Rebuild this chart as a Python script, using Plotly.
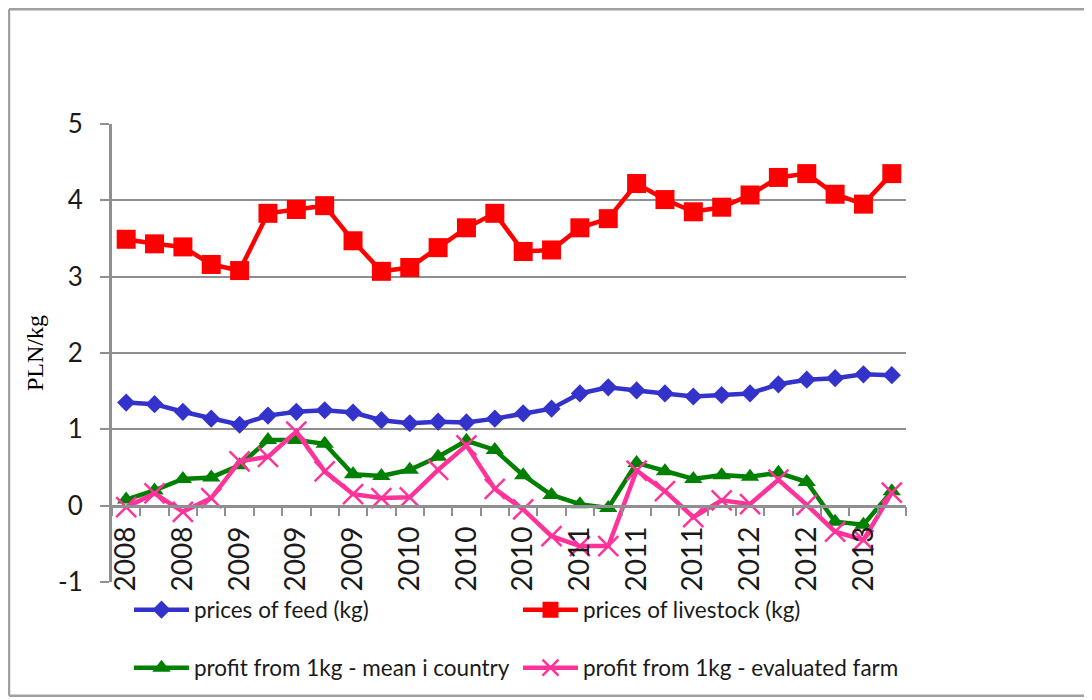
import plotly.graph_objects as go

# ---- data ----
tick_labels = ["2008", "2008", "2009", "2009", "2009", "2010", "2010",
               "2010", "2011", "2011", "2011", "2012", "2012", "2013"]

y_ticks = [-1, 0, 1, 2, 3, 4, 5]
y_tick_labels = ["-1", "0", "1", "2", "3", "4", "5"]

feed_prices = [1.35, 1.33, 1.23, 1.14, 1.06, 1.18, 1.23, 1.25, 1.22, 1.12,
               1.08, 1.10, 1.09, 1.14, 1.21, 1.27, 1.47, 1.55, 1.51, 1.47,
               1.43, 1.45, 1.47, 1.59, 1.65, 1.67, 1.72, 1.71]

livestock_prices = [3.49, 3.43, 3.39, 3.16, 3.08, 3.83, 3.88, 3.93, 3.47, 3.07,
                    3.12, 3.38, 3.64, 3.83, 3.33, 3.35, 3.64, 3.76, 4.22, 4.01,
                    3.85, 3.91, 4.07, 4.30, 4.35, 4.08, 3.95, 4.35]

profit_country = [0.08, 0.20, 0.35, 0.37, 0.53, 0.86, 0.86, 0.81, 0.41, 0.39,
                  0.47, 0.64, 0.85, 0.73, 0.40, 0.14, 0.02, -0.03, 0.56, 0.45,
                  0.35, 0.40, 0.38, 0.43, 0.31, -0.21, -0.25, 0.19]

profit_farm = [-0.02, 0.16, -0.08, 0.10, 0.58, 0.64, 0.97, 0.45, 0.15, 0.10,
               0.11, 0.47, 0.79, 0.22, -0.05, -0.40, -0.53, -0.53, 0.46, 0.19,
               -0.15, 0.07, 0.02, 0.34, 0.01, -0.34, -0.45, 0.17]

series_names = ["prices of feed (kg)", "prices of livestock (kg)",
                "profit from 1kg - mean i country", "profit from 1kg - evaluated farm"]

x = list(range(len(feed_prices)))
tickvals = x[::2]

GRID = "#8f8f8f"
FONT = "Lato"

fig = go.Figure()
fig.add_trace(go.Scatter(
    x=x, y=feed_prices, name=series_names[0], mode="lines+markers",
    line=dict(color="#3333CC", width=4.5),
    marker=dict(symbol="diamond", size=14, color="#3333CC"),
    legend="legend"))
fig.add_trace(go.Scatter(
    x=x, y=livestock_prices, name=series_names[1], mode="lines+markers",
    line=dict(color="#FF0000", width=4.5),
    marker=dict(symbol="square", size=19, color="#FF0000"),
    legend="legend"))
fig.add_trace(go.Scatter(
    x=x, y=profit_country, name=series_names[2], mode="lines+markers",
    line=dict(color="#008000", width=4.5),
    marker=dict(symbol="triangle-up", size=16, color="#008000"),
    legend="legend2"))
fig.add_trace(go.Scatter(
    x=x, y=profit_farm, name=series_names[3], mode="lines+markers",
    line=dict(color="#FF3399", width=4.5),
    marker=dict(symbol="x-thin", size=20, color="#FF3399",
                line=dict(color="#FF3399", width=2.5)),
    legend="legend2"))

# page offset: the figure sits 8px inside the page
OFF = 8
W, H = 1092 - OFF, 700 - OFF
L, T = 112 - OFF, 124 - OFF
pw, ph = 794, 459
R, B = W - L - pw, H - T - ph


def px_x(p):  # page px -> paper
    return (p - OFF - L) / pw


def px_y(p):  # page px -> paper
    return (T + ph - (p - OFF)) / ph


legend_common = dict(orientation="h", xanchor="left", yanchor="middle",
                     font=dict(size=22.5, family=FONT, color="#1a1a1a"),
                     entrywidth=319, itemwidth=55, bgcolor="rgba(0,0,0,0)")

border = dict(color="#a0a0a0", width=2.5)
bx0, bx1, by0, by1 = px_x(9), px_x(1100), px_y(697), px_y(9)

fig.update_layout(
    width=W, height=H,
    margin=dict(l=L, r=R, t=T, b=B),
    paper_bgcolor="white", plot_bgcolor="white",
    font=dict(family=FONT, color="#1a1a1a"),
    showlegend=True,
    legend=dict(x=px_x(129), y=px_y(610), **legend_common),
    legend2=dict(x=px_x(129), y=px_y(668), **legend_common),
    xaxis=dict(
        range=[-0.5, len(x) - 0.5],
        anchor="free", position=1 / 6,
        tickmode="array", tickvals=tickvals, ticktext=tick_labels,
        tickangle=-90, ticks="", ticklabelstandoff=8,
        tickfont=dict(size=28, family=FONT, color="#1a1a1a"),
        showline=True, linecolor=GRID, linewidth=2.5,
        showgrid=False, zeroline=False,
        minor=dict(tickmode="linear", tick0=-0.5, dtick=1, ticks="outside",
                   ticklen=9, tickwidth=2, tickcolor=GRID, showgrid=False),
    ),
    yaxis=dict(
        range=[-1, 5], tickmode="array", tickvals=y_ticks, ticktext=y_tick_labels,
        showline=True, linecolor=GRID, linewidth=3,
        ticks="outside", ticklen=9, tickwidth=2, tickcolor=GRID,
        ticklabelstandoff=12,
        tickfont=dict(size=26, family=FONT, color="#1a1a1a"),
        showgrid=True, gridcolor=GRID, gridwidth=2, zeroline=False,
        title=dict(text="PLN/kg", standoff=8,
                   font=dict(family="Liberation Serif", size=24, color="black")),
    ),
    shapes=[
        dict(type="line", xref="paper", yref="paper", x0=bx0, x1=bx0, y0=by0, y1=by1,
             line=border, layer="below"),
        dict(type="line", xref="paper", yref="paper", x0=bx0, x1=bx1, y0=by1, y1=by1,
             line=border, layer="below"),
        dict(type="line", xref="paper", yref="paper", x0=bx0, x1=bx1, y0=by0, y1=by0,
             line=border, layer="below"),
    ],
)

fig.write_html("out.html")
